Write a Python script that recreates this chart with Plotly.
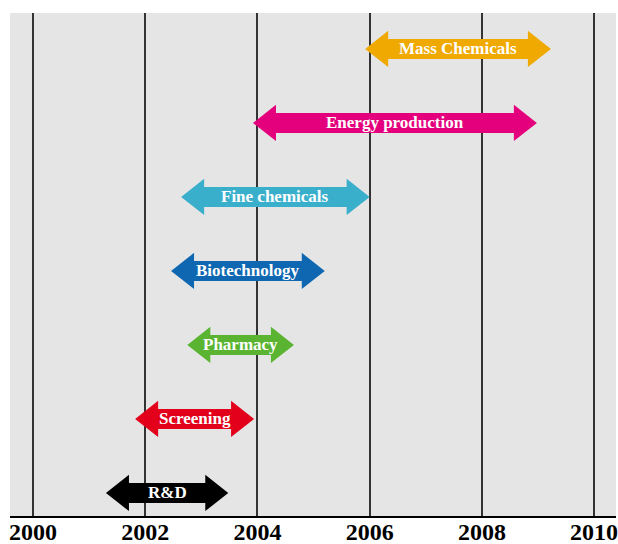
import plotly.graph_objects as go

# Application areas, bottom row first, with the years each one spans
areas = ["R&D", "Screening", "Pharmacy", "Biotechnology",
         "Fine chemicals", "Energy production", "Mass Chemicals"]
start_year = [2001.30, 2001.82, 2002.75, 2002.46, 2002.64, 2003.92, 2005.92]
end_year = [2003.48, 2003.94, 2004.65, 2005.20, 2006.00, 2008.98, 2009.23]
colors = ["#000000", "#E2001A", "#5AB431", "#0E67B0",
          "#3AAFCB", "#E4007D", "#F0A900"]
year_ticks = [2000, 2002, 2004, 2006, 2008, 2010]

# Arrow geometry (in axis units)
HEAD_LEN = 0.41      # years
BODY_HALF = 0.135    # rows
HEAD_HALF = 0.245    # rows

fig = go.Figure()

for i, (name, x0, x1, c) in enumerate(zip(areas, start_year, end_year, colors)):
    xs = [x0, x0 + HEAD_LEN, x0 + HEAD_LEN, x1 - HEAD_LEN, x1 - HEAD_LEN, x1,
          x1 - HEAD_LEN, x1 - HEAD_LEN, x0 + HEAD_LEN, x0 + HEAD_LEN, x0]
    ys = [i, i + HEAD_HALF, i + BODY_HALF, i + BODY_HALF, i + HEAD_HALF, i,
          i - HEAD_HALF, i - BODY_HALF, i - BODY_HALF, i - HEAD_HALF, i]
    fig.add_trace(go.Scatter(
        x=xs, y=ys, mode="lines", fill="toself", fillcolor=c,
        line=dict(width=0, color=c), hoverinfo="skip", showlegend=False))
    fig.add_annotation(
        x=(x0 + x1) / 2, y=i, text=f"<b>{name}</b>", showarrow=False,
        font=dict(family="Liberation Serif", size=17, color="white"))

fig.update_layout(
    width=618, height=544,
    margin=dict(l=10, r=2, t=13, b=28),
    paper_bgcolor="white", plot_bgcolor="#E5E5E5",
    xaxis=dict(
        range=[1999.59, 2010.39], tickvals=year_ticks,
        ticktext=[f"<b>{y}</b>" for y in year_ticks],
        showgrid=True, gridcolor="#333333", gridwidth=1.5,
        showline=True, linecolor="black", linewidth=2,
        ticks="", zeroline=False, automargin=False, ticklabelstandoff=-7,
        ticklabeloverflow="allow",
        tickfont=dict(family="Liberation Serif", size=24, color="black")),
    yaxis=dict(range=[-0.311, 6.486], showgrid=False, zeroline=False,
               showticklabels=False, showline=False, automargin=False),
)

fig.write_html("out.html")
